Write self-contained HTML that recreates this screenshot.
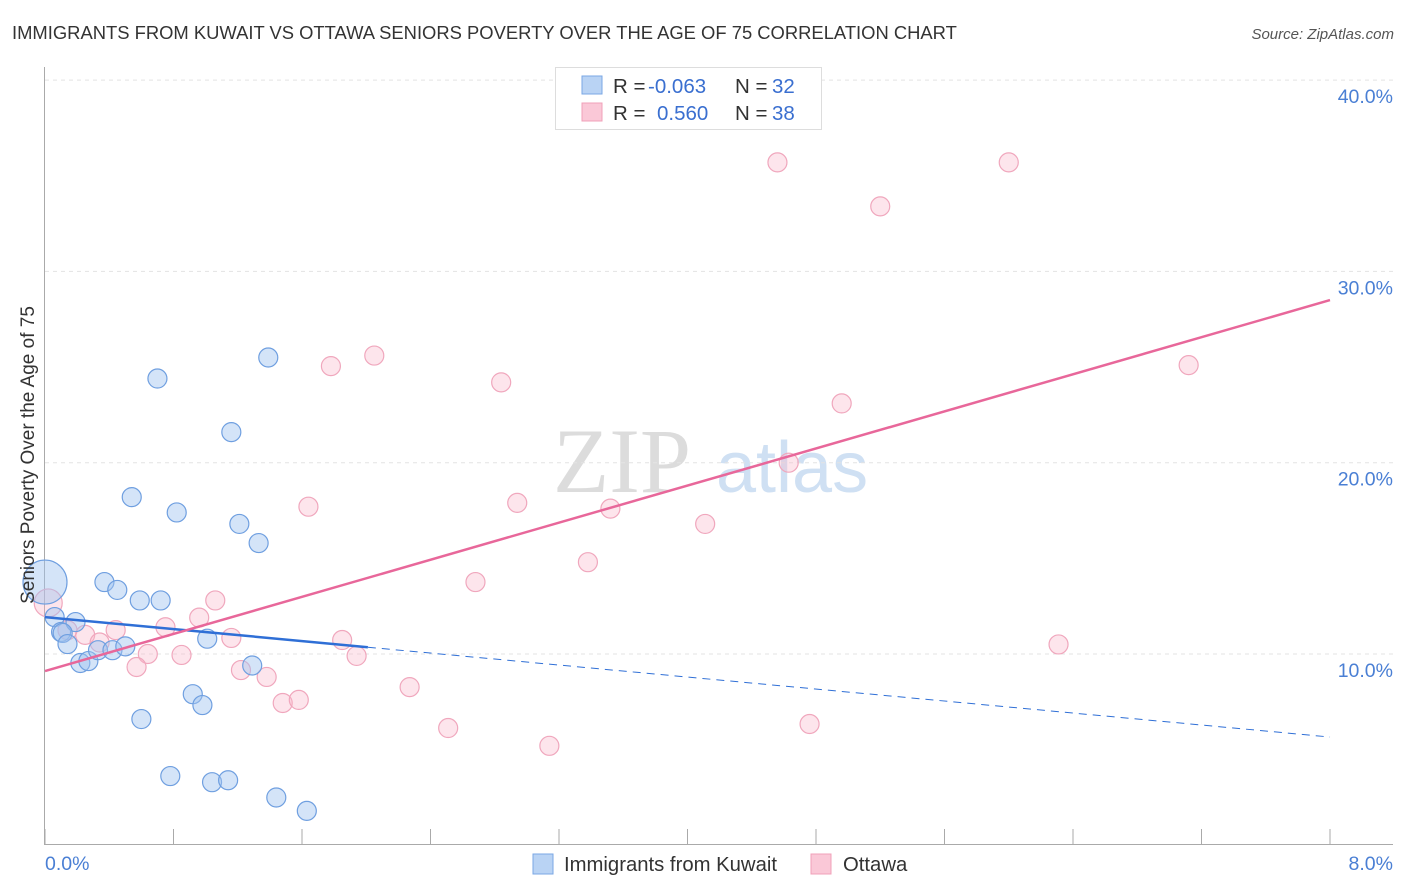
<!DOCTYPE html>
<html><head><meta charset="utf-8"><style>
body{margin:0;background:#fff;font-family:"Liberation Sans",sans-serif;}
svg{display:block}
</style></head><body>
<svg id="chart" width="1406" height="892">
<text x="12" y="39" font-size="18.4" fill="#333">IMMIGRANTS FROM KUWAIT VS OTTAWA SENIORS POVERTY OVER THE AGE OF 75 CORRELATION CHART</text>
<text x="1394" y="39" font-size="15" fill="#555" font-style="italic" text-anchor="end">Source: ZipAtlas.com</text>
<g>
<text x="553" y="492" font-size="92" font-family="Liberation Serif" fill="#dcdcdc">ZIP</text>
<text x="716" y="492" font-size="72" fill="#cfe0f3">atlas</text>
</g>
<g id="grid"></g><g id="axes"></g><g id="marks"></g>
<text transform="translate(34,455) rotate(-90)" font-size="19" fill="#333" text-anchor="middle">Seniors Poverty Over the Age of 75</text>
<g>
<rect x="555.5" y="67.5" width="266" height="62" fill="#fff" stroke="#ddd"/>
<rect x="582" y="76" width="20" height="18" fill="#b9d3f4" stroke="#7aa7e4"/>
<rect x="582" y="103" width="20" height="18" fill="#fac8d7" stroke="#f0a0b8"/>
<text x="613" y="93" font-size="20.5" fill="#333">R = <tspan x="648" fill="#3a6fd0">-0.063</tspan><tspan x="735">N = </tspan><tspan x="772" fill="#3a6fd0">32</tspan></text>
<text x="613" y="120" font-size="20.5" fill="#333">R = <tspan x="657" fill="#3a6fd0">0.560</tspan><tspan x="735">N = </tspan><tspan x="772" fill="#3a6fd0">38</tspan></text>
</g>
<g>
<rect x="533" y="854" width="20" height="20" fill="#b9d3f4" stroke="#7aa7e4"/>
<text x="564" y="871" font-size="20.3" fill="#333">Immigrants from Kuwait</text>
<rect x="811" y="854" width="20" height="20" fill="#fac8d7" stroke="#f0a0b8"/>
<text x="843" y="871" font-size="20.3" fill="#333">Ottawa</text>
</g>
</svg>
<script>
const kuwaitX=[0,.06,.10,.19,.11,.14,.22,.27,.33,.42,.50,.37,.45,.59,.72,1.01,1.29,.92,.98,.60,.78,1.04,1.14,1.44,1.63,.70,1.39,1.16,.54,.82,1.21,1.33];
const kuwaitY=[13.76,11.93,11.15,11.67,11.1,10.52,9.53,9.63,10.2,10.2,10.4,13.76,13.35,12.8,12.8,10.8,9.4,7.9,7.33,6.6,3.62,3.3,3.4,2.5,1.8,24.4,25.5,21.6,18.2,17.4,16.8,15.8];
const ottawaX=[.02,.14,.25,.34,.44,.64,.57,.75,.85,.96,1.06,1.16,1.22,1.38,1.48,1.58,1.64,1.78,2.05,1.85,1.94,2.27,2.51,2.68,2.84,2.94,3.14,3.38,3.52,4.11,4.56,4.63,4.76,4.96,5.20,6.0,6.31,7.12];
const ottawaY=[12.67,11.25,11.0,10.6,11.25,10.0,9.32,11.4,9.95,11.9,12.8,10.84,9.16,8.8,7.44,7.6,17.7,25.05,25.6,10.73,9.9,8.27,6.13,13.76,24.2,17.9,5.2,14.8,17.6,16.8,35.7,20.0,6.34,23.1,33.4,35.7,10.5,25.1];
const yTicks=[10,20,30,40];
const xTickLabels=["0.0%","8.0%"];
const kuwaitTrend=[11.93,5.66];
const ottawaTrend=[9.11,28.5];
const kuwaitSolidEnd=2.01;
const NS="http://www.w3.org/2000/svg";
const X=v=>45+v/8*1285, Y=v=>654-(v-10)*19.13;
function mk(t,a,p){const e=document.createElementNS(NS,t);for(const k in a)e.setAttribute(k,a[k]);p.appendChild(e);return e;}
const grid=document.getElementById('grid'),axes=document.getElementById('axes'),marks=document.getElementById('marks');
yTicks.forEach(t=>{
const l=mk('line',{x1:45,x2:1393,y1:Y(t),y2:Y(t),stroke:'#e3e3e3','stroke-dasharray':'4,4'},grid);


const tx=mk('text',{x:1393,y:Y(t)+23,'text-anchor':'end','font-size':19.5,fill:'#4a7fd4'},axes);
tx.textContent=t.toFixed(1)+'%';


});
const ya=mk('line',{x1:44.5,x2:44.5,y1:67,y2:845,stroke:'#aaa'},axes);


const xa=mk('line',{x1:45,x2:1393,y1:844.5,y2:844.5,stroke:'#aaa'},axes);


for(let i=0;i<=10;i++){const tk=mk('line',{x1:X(i*0.8),x2:X(i*0.8),y1:829,y2:845,stroke:'#aaa'},axes);

}
[[0,'start',45],[8,'end',1393]].forEach((d,i)=>{const tx=mk('text',{x:d[2],y:870,'text-anchor':d[1],'font-size':19.5,fill:'#4a7fd4'},axes);tx.textContent=xTickLabels[i];

});
function pts(xs,ys,fill,stroke,name){xs.forEach((x,i)=>{const r=(i===0)?(name==='kuwait-point'?22:14):9.5;
const c=mk('circle',{cx:X(x),cy:Y(ys[i]),r:r,fill:fill,stroke:stroke,'stroke-width':1.2},marks);

});}
pts(ottawaX,ottawaY,'rgba(248,180,200,0.35)','#f0a7bd','ottawa-point');
pts(kuwaitX,kuwaitY,'rgba(160,196,240,0.45)','#6f9fe0','kuwait-point');
const kb=v=>kuwaitTrend[0]+(kuwaitTrend[1]-kuwaitTrend[0])*v/8;
const l1=mk('line',{x1:X(0),y1:Y(kb(0)),x2:X(kuwaitSolidEnd),y2:Y(kb(kuwaitSolidEnd)),stroke:'#2f6fd6','stroke-width':2.5},marks);


const l2=mk('line',{x1:X(kuwaitSolidEnd),y1:Y(kb(kuwaitSolidEnd)),x2:X(8),y2:Y(kb(8)),stroke:'#2f6fd6','stroke-width':1,'stroke-dasharray':'8,6'},marks);


const l3=mk('line',{x1:X(0),y1:Y(ottawaTrend[0]),x2:X(8),y2:Y(ottawaTrend[1]),stroke:'#e8679a','stroke-width':2.5},marks);


</script>
</body></html>
